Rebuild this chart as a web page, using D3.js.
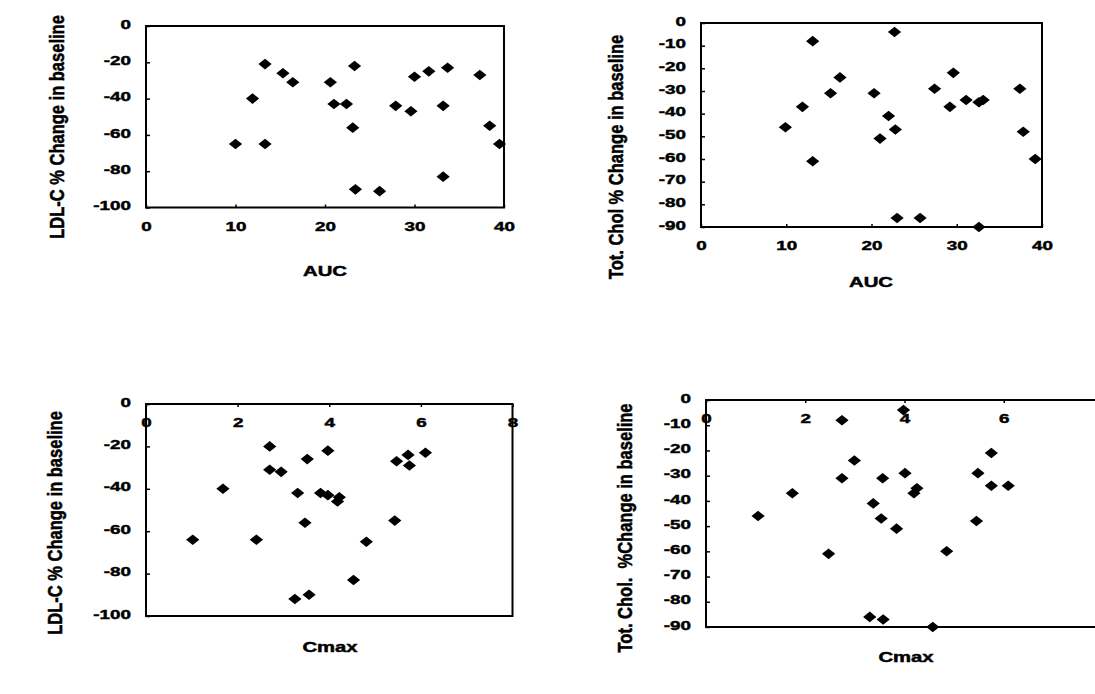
<!DOCTYPE html>
<html lang="en">
<head>
<meta charset="UTF-8" />
<script src="https://cdn.jsdelivr.net/npm/d3@7"></script>
<title>LDL-C / Tot. Chol vs AUC and Cmax</title>
<style>
  body { margin: 0; background: #fff; }
  svg text { font-family: "Liberation Sans", Arial, sans-serif; font-weight: bold; fill: #000; stroke: #000; stroke-width: 0.45px; }
</style>
</head>
<body>
<svg id="chart" width="1095" height="694"></svg>
<script>
// values (one point per subject)
const ldlAucX = [10.0, 11.9, 13.3, 13.3, 15.3, 16.4, 20.6, 21.0, 22.4, 23.3, 23.1, 23.4, 26.1, 27.9, 29.6, 30.0, 31.6, 33.2, 33.7, 33.2, 37.3, 38.4, 39.5];
const ldlAucY = [-65, -40, -21, -65, -26, -31, -31, -43, -43, -22, -56, -90, -91, -44, -47, -28, -25, -44, -23, -83, -27, -55, -65];

const cholAucX = [9.9, 11.9, 13.1, 13.1, 15.2, 16.3, 20.3, 21.0, 22.0, 22.7, 22.8, 23.0, 25.7, 27.4, 29.2, 29.6, 31.1, 32.6, 33.1, 32.6, 37.4, 37.8, 39.2];
const cholAucY = [-46, -37, -8, -61, -31, -24, -31, -51, -41, -4, -47, -86, -86, -29, -37, -22, -34, -35, -34, -90, -29, -48, -60];

const ldlCmaxX = [1.02, 1.68, 2.41, 2.70, 2.70, 2.95, 3.31, 3.25, 3.47, 3.52, 3.56, 3.81, 3.97, 3.97, 4.18, 4.22, 4.53, 4.81, 5.43, 5.47, 5.72, 5.75, 6.10];
const ldlCmaxY = [-64, -40, -64, -20, -31, -32, -42, -92, -56, -26, -90, -42, -22, -43, -46, -44, -83, -65, -55, -27, -24, -29, -23];

const cholCmaxX = [1.05, 1.74, 2.47, 2.74, 2.74, 2.99, 3.30, 3.37, 3.53, 3.56, 3.57, 3.84, 3.98, 4.01, 4.19, 4.25, 4.57, 4.85, 5.45, 5.48, 5.75, 5.75, 6.09];
const cholCmaxY = [-46, -37, -61, -8, -31, -24, -86, -41, -47, -31, -87, -51, -4, -29, -37, -35, -90, -60, -48, -29, -21, -34, -34];

const ldlTicks = [0, -20, -40, -60, -80, -100];
const cholTicks = [0, -10, -20, -30, -40, -50, -60, -70, -80, -90];
const aucTicks = [0, 10, 20, 30, 40];
const cmaxTicks = [0, 2, 4, 6, 8];

const svg = d3.select('#chart');

// the scan is stretched sideways, so text is widened to match
const stretch = 1.45;
const titleStretch = 1.2;

const zip = (xs, ys) => xs.map((x, i) => ({ x, y: ys[i] }));
const plain = d => String(d); // keep the ascii hyphen of the original

const drawPanel = p => {
    const xScale = d3.scaleLinear().domain([0, p.xTicks[p.xTicks.length - 1]]).range([p.left, p.right]);
    const yScale = d3.scaleLinear().domain([0, p.yTicks[p.yTicks.length - 1]]).range([p.top, p.bottom]);

    const g = svg.append('g');

    // y axis, labels to the left of the box
    const yAxisG = g.append('g')
        .attr('transform', `translate(${p.left},0)`)
        .call(d3.axisLeft(yScale).tickValues(p.yTicks).tickFormat(plain).tickSize(-4).tickPadding(15 / stretch));
    yAxisG.select('.domain').remove();
    yAxisG.attr('font-family', null).attr('font-size', null);
    yAxisG.selectAll('line').attr('stroke', '#000').attr('stroke-width', 1.5);
    yAxisG.selectAll('text')
        .attr('y', -2)
        .style('font-size', '13px')
        .attr('transform', `scale(${stretch},1)`);

    // x axis, at the bottom (AUC) or along the zero line at the top (Cmax)
    const xAxisY = p.xAtTop ? p.top : p.bottom;
    const xAxisG = g.append('g')
        .attr('transform', `translate(0,${xAxisY})`)
        .call(d3.axisBottom(xScale).tickValues(p.xTicks).tickFormat(plain).tickSize(p.xAtTop ? 3 : -3).tickPadding(p.xAtTop ? 11 : 14));
    xAxisG.select('.domain').remove();
    xAxisG.attr('font-family', null).attr('font-size', null);
    xAxisG.selectAll('line').attr('stroke', '#000').attr('stroke-width', 1.5);
    xAxisG.selectAll('text')
        .style('font-size', '13px')
        .attr('transform', `scale(${stretch},1)`);

    g.append('rect')
        .attr('x', p.left)
        .attr('y', p.top)
        .attr('width', p.right - p.left)
        .attr('height', p.bottom - p.top)
        .attr('fill', 'none')
        .attr('stroke', '#000')
        .attr('stroke-width', 2);

    const diamond = d3.symbol().type(d3.symbolSquare).size(56);
    g.selectAll('path.pt').data(zip(p.xs, p.ys))
        .enter().append('path')
        .attr('class', 'pt')
        .attr('d', diamond)
        .attr('transform', d => `translate(${xScale(d.x)},${yScale(d.y)}) scale(1.25,1) rotate(45)`)
        .attr('fill', '#000');

    g.append('text')
        .attr('transform', `translate(${p.xTitle[0]},${p.xTitle[1]}) scale(${stretch},1)`)
        .attr('text-anchor', 'middle')
        .attr('dominant-baseline', 'central')
        .style('font-size', '14px')
        .text(p.xLabel);

    g.append('text')
        .attr('transform', `translate(${p.yTitle[0]},${p.yTitle[1]}) scale(${titleStretch},1) rotate(-90)`)
        .attr('text-anchor', 'middle')
        .attr('dominant-baseline', 'central')
        .style('font-size', '16.5px')
        .style('white-space', 'pre')
        .text(p.yLabel);
};

drawPanel({
    xs: ldlAucX, ys: ldlAucY, xTicks: aucTicks, yTicks: ldlTicks,
    left: 146, right: 504, top: 26, bottom: 207.5, xAtTop: false,
    xLabel: 'AUC', xTitle: [325, 271],
    yLabel: 'LDL-C % Change in baseline', yTitle: [57, 127]
});

drawPanel({
    xs: cholAucX, ys: cholAucY, xTicks: aucTicks, yTicks: cholTicks,
    left: 701, right: 1042, top: 23, bottom: 227, xAtTop: false,
    xLabel: 'AUC', xTitle: [871, 282],
    yLabel: 'Tot. Chol % Change in baseline', yTitle: [616, 157]
});

drawPanel({
    xs: ldlCmaxX, ys: ldlCmaxY, xTicks: cmaxTicks, yTicks: ldlTicks,
    left: 146, right: 512.5, top: 404, bottom: 616, xAtTop: true,
    xLabel: 'Cmax', xTitle: [330, 647],
    yLabel: 'LDL-C % Change in baseline', yTitle: [55, 523]
});

drawPanel({
    xs: cholCmaxX, ys: cholCmaxY, xTicks: cmaxTicks, yTicks: cholTicks,
    left: 706, right: 1103, top: 400, bottom: 627, xAtTop: true,
    xLabel: 'Cmax', xTitle: [906, 657],
    yLabel: 'Tot. Chol.  %Change in baseline', yTitle: [625, 528]
});
</script>
</body>
</html>
